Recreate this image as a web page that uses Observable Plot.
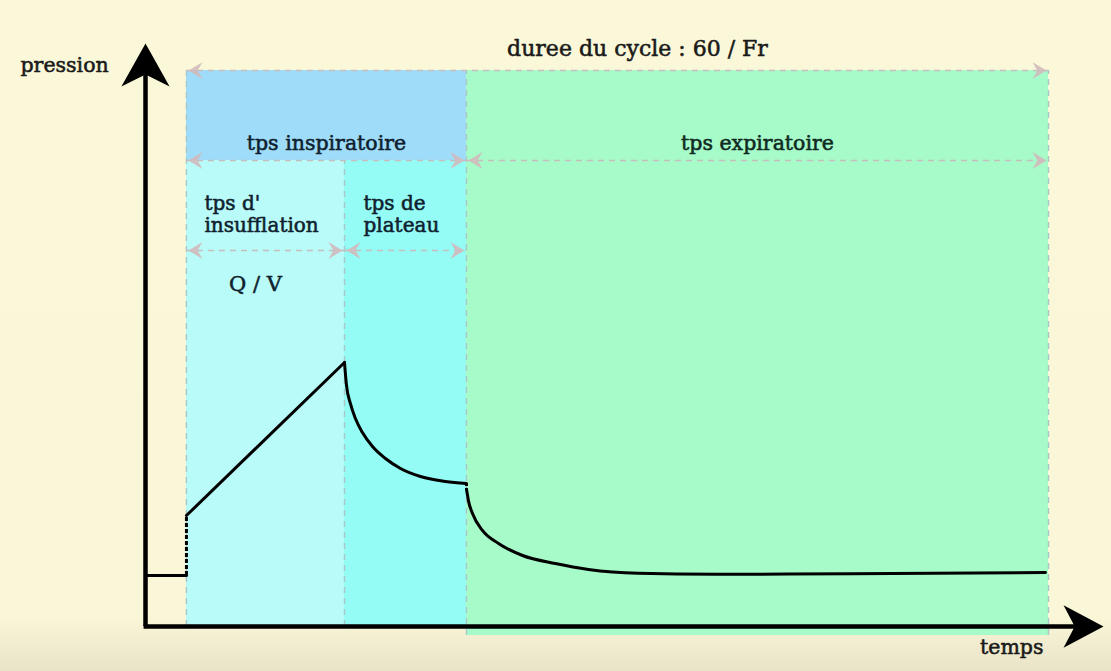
<!DOCTYPE html>
<html>
<head>
<meta charset="utf-8">
<script src="https://cdn.jsdelivr.net/npm/d3@7"></script>
<script src="https://cdn.jsdelivr.net/npm/@observablehq/plot@0.6"></script>
<style>
  html, body { margin: 0; padding: 0; background: #fbf8d9; }
  #chart svg { display: block; }
</style>
</head>
<body>
<div id="chart"></div>
<script>
// ---- data (time in s, pressure in cmH2O) ----
const phaseNames = ["insufflation", "plateau", "expiration"];
const phaseBounds = [0, 1.10, 1.949, 6.0];          // start of each phase, end of cycle
// pressure curve, split into the pieces between the pressure jumps
const segmentIds = ["peep", "peep", "rise", "rise",
                    "plateau", "plateau", "plateau", "plateau", "plateau", "plateau", "plateau", "plateau", "plateau", "plateau", "plateau",
                    "exp", "exp", "exp", "exp", "exp", "exp", "exp", "exp", "exp", "exp", "exp", "exp", "exp"];
const timeValues = [-0.285, 0, 0, 1.10,
                    1.10, 1.114, 1.141, 1.176, 1.225, 1.295, 1.385, 1.490, 1.629, 1.803, 1.949,
                    1.949, 1.956, 1.963, 1.991, 2.060, 2.172, 2.339, 2.568, 2.798, 3.146, 3.682, 4.622, 5.979];
const pressureValues = [4.81, 4.81, 10.47, 24.91,
                        24.91, 22.74, 21.04, 19.62, 18.30, 16.98, 15.85, 14.91, 14.15, 13.68, 13.49,
                        12.95, 12.40, 11.85, 10.66, 9.06, 7.83, 6.70, 5.94, 5.38, 5.02, 4.93, 4.98, 5.09];
const labels = {
  title: "duree du cycle : 60 / Fr",
  insp: "tps inspiratoire",
  exp: "tps expiratoire",
  insuff1: "tps d'",
  insuff2: "insufflation",
  plateau1: "tps de",
  plateau2: "plateau",
  flow: "Q / V",
  yLabel: "pression",
  xLabel: "temps"
};

// ---- layout constants (pressure units) ----
const bandTop = 52.45, bandMid = 43.96, bandLow = 35.47, below = -0.85;
const axisT = -0.285, yTip = 55.0, xTip = 6.383;

const curve = timeValues.map((t, i) => ({seg: segmentIds[i], t, p: pressureValues[i]}));
const [t0, t1, t2, t3] = phaseBounds;

const colors = {band: "#9fdcf9", insufflation: "#b9fbf8", plateau: "#94fbf5", expiration: "#a6fbc9"};
const regions = [
  {key: "band", x1: t0, x2: t2, y1: bandMid, y2: bandTop},
  {key: "insufflation", x1: t0, x2: t1, y1: 0, y2: bandMid},
  {key: "plateau", x1: t1, x2: t2, y1: 0, y2: bandMid},
  {key: "expiration", x1: t2, x2: t3, y1: below, y2: bandTop}
];
const spans = [
  {y: bandTop, a: t0, b: t3},
  {y: bandMid, a: t0, b: t2},
  {y: bandMid, a: t2, b: t3},
  {y: bandLow, a: t0, b: t1},
  {y: bandLow, a: t1, b: t2}
];
const verticals = [
  {x: t0, y1: 0, y2: bandTop}, {x: t1, y1: 0, y2: bandMid}, {x: t2, y1: below, y2: bandTop}, {x: t3, y1: below, y2: bandTop}
];

// ---- custom symbols ----
const bigUp = {draw(c, size) { const s = Math.sqrt(size / Math.PI);
  c.moveTo(0, 0); c.lineTo(0.56 * s, s); c.lineTo(0, 0.72 * s); c.lineTo(-0.56 * s, s); c.closePath(); }};
const bigRight = {draw(c, size) { const s = Math.sqrt(size / Math.PI);
  c.moveTo(0, 0); c.lineTo(-s, -0.53 * s); c.lineTo(-0.72 * s, 0); c.lineTo(-s, 0.53 * s); c.closePath(); }};
const smallRight = {draw(c, size) { const s = Math.sqrt(size / Math.PI);
  c.moveTo(0, 0); c.lineTo(-s, -0.6 * s); c.lineTo(-0.65 * s, 0); c.lineTo(-s, 0.6 * s); c.closePath(); }};
const smallLeft = {draw(c, size) { const s = Math.sqrt(size / Math.PI);
  c.moveTo(0, 0); c.lineTo(s, -0.6 * s); c.lineTo(0.65 * s, 0); c.lineTo(s, 0.6 * s); c.closePath(); }};

const font = "'DejaVu Serif', serif";
const mid = (a, b) => (a + b) / 2;
const txt = (color) => ({fontFamily: font, fill: color, stroke: color, strokeWidth: 0.55});

const chart = Plot.plot({
  width: 1111,
  height: 671,
  margin: 0,
  x: {domain: [axisT, t3], range: [145, 1048], axis: null},
  y: {domain: [0, 50], range: [626, 96], axis: null},
  color: {type: "identity"},
  style: {background: "linear-gradient(to bottom, #fbf8d9 0%, #faf6d8 92%, #e9e3c7 100%)", fontFamily: font},
  marks: [
    Plot.rect(regions, {x1: "x1", x2: "x2", y1: "y1", y2: "y2", fill: d => colors[d.key]}),
    Plot.ruleX(verticals, {x: "x", y1: "y1", y2: "y2", stroke: "#a9c6c8", strokeWidth: 1.4, strokeDasharray: "6,5"}),
    Plot.ruleY(spans, {y: "y", x1: "a", x2: "b", stroke: "#c6bebe", strokeWidth: 1.6, strokeDasharray: "6,5"}),
    Plot.dot(spans, {x: "a", y: "y", symbol: smallLeft, r: 14, fill: "#d2b9bd", fillOpacity: 0.9, stroke: "none", dx: 2}),
    Plot.dot(spans, {x: "b", y: "y", symbol: smallRight, r: 14, fill: "#d2b9bd", fillOpacity: 0.9, stroke: "none", dx: -2}),
    // axes
    Plot.ruleX([axisT], {y1: 0, y2: yTip - 2, stroke: "black", strokeWidth: 4.5}),
    Plot.ruleY([0], {x1: axisT - 0.01, x2: xTip - 0.1, stroke: "black", strokeWidth: 4.5}),
    Plot.dot([{t: axisT, p: yTip}], {x: "t", y: "p", symbol: bigUp, r: 43, fill: "black", stroke: "none"}),
    Plot.dot([{t: xTip, p: 0}], {x: "t", y: "p", symbol: bigRight, r: 40, fill: "black", stroke: "none"}),
    // pressure curve: smooth pieces, dashed jumps between them
    Plot.line(curve, {x: "t", y: "p", z: "seg", stroke: "black", strokeWidth: 3, curve: "monotone-x", strokeLinejoin: "round", strokeLinecap: "round"}),
    Plot.ruleX([t0], {y1: pressureValues[1], y2: pressureValues[2], stroke: "black", strokeWidth: 3, strokeDasharray: "4,2"}),
    Plot.ruleX([t2], {y1: pressureValues[14], y2: pressureValues[15], stroke: "black", strokeWidth: 3, strokeDasharray: "3,2"}),
    // texts
    Plot.text([labels.title], {x: mid(t0, t3), y: bandTop, dx: 20, dy: -22, fontSize: 22, ...txt("#1a1a1a")}),
    Plot.text([labels.insp], {x: mid(t0, t2), y: bandMid, dy: -17, fontSize: 20.5, ...txt("#0f1f2f")}),
    Plot.text([labels.exp], {x: mid(t2, t3), y: bandMid, dy: -17, fontSize: 20.5, ...txt("#0f2a1f")}),
    Plot.text([labels.insuff1], {x: t0, y: bandMid, dx: 18, dy: 43, textAnchor: "start", fontSize: 20, ...txt("#0f1f2f")}),
    Plot.text([labels.insuff2], {x: t0, y: bandMid, dx: 18, dy: 65, textAnchor: "start", fontSize: 20, ...txt("#0f1f2f")}),
    Plot.text([labels.plateau1], {x: t1, y: bandMid, dx: 19, dy: 43, textAnchor: "start", fontSize: 20, ...txt("#0f1f2f")}),
    Plot.text([labels.plateau2], {x: t1, y: bandMid, dx: 19, dy: 65, textAnchor: "start", fontSize: 20, ...txt("#0f1f2f")}),
    Plot.text([labels.flow], {x: mid(t0, t1), y: bandLow, dx: -10, dy: 34, fontSize: 21, ...txt("#0f1f2f")}),
    Plot.text([labels.yLabel], {frameAnchor: "top-left", dx: 20, dy: 57, textAnchor: "start", fontSize: 20.5, ...txt("#1a1a1a")}),
    Plot.text([labels.xLabel], {frameAnchor: "bottom-right", dx: -68, dy: -18, textAnchor: "end", fontSize: 20.5, ...txt("#1a1a1a")})
  ]
});
document.getElementById("chart").appendChild(chart);
</script>
</body>
</html>
